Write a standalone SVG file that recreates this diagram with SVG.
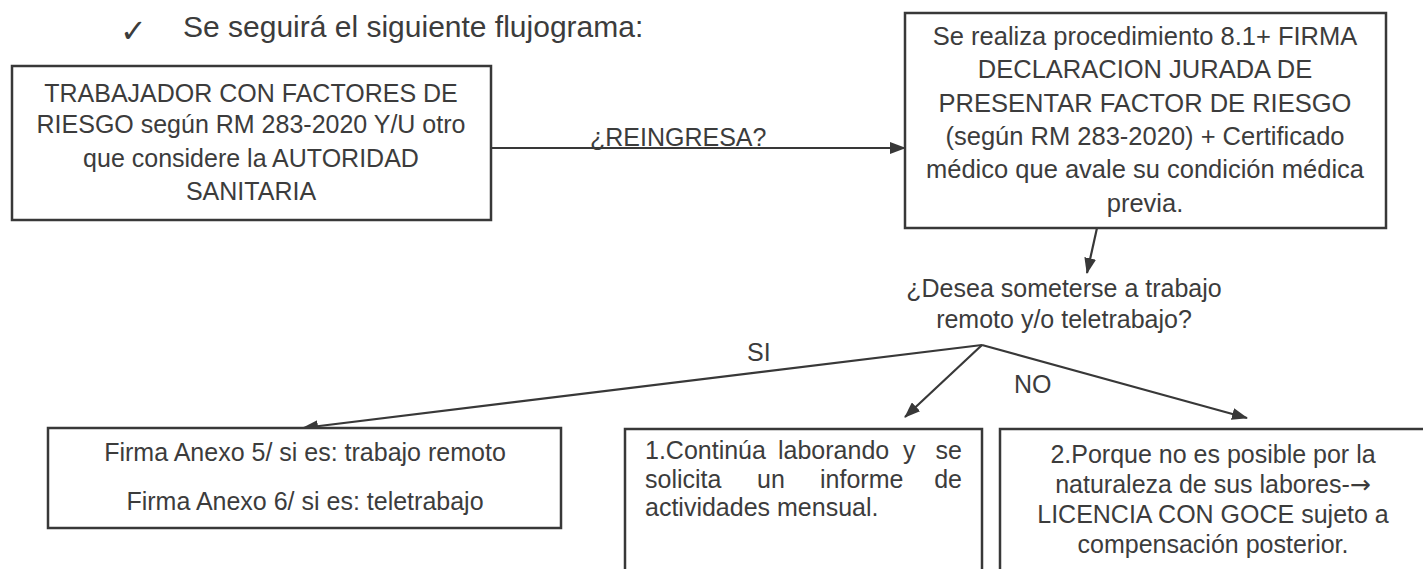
<svg xmlns="http://www.w3.org/2000/svg" width="1423" height="569" viewBox="0 0 1423 569">
<style>
 .box{fill:#fff;stroke:#383838;stroke-width:2.5}
 .t{font-family:"Liberation Sans",Arial,sans-serif;fill:#3c3c3c}
 .c{text-anchor:middle}
 .e{text-anchor:end}
 .ln{stroke:#383838;stroke-width:2.2;fill:none}
 .sym{font-family:"DejaVu Sans",sans-serif}
</style>
<defs>
 <marker id="ah" markerWidth="16" markerHeight="12" refX="15" refY="6" orient="auto" markerUnits="userSpaceOnUse">
  <path d="M0,0 L16,6 L0,12 z" fill="#383838"/>
 </marker>
</defs>
<rect width="1423" height="569" fill="#fff"/>
<g id="title">
 <text class="sym" x="120" y="42" font-size="32" fill="#3c3c3c">✓</text>
 <text class="t" x="183" y="37" font-size="30">Se seguirá el siguiente flujograma:</text>
</g>
<g id="connectors">
 <line class="ln" x1="491" y1="148" x2="905" y2="148" marker-end="url(#ah)"/>
 <text class="t" x="590" y="146" font-size="25">¿REINGRESA?</text>
 <line class="ln" x1="1097" y1="228" x2="1087" y2="273" marker-end="url(#ah)"/>
 <line class="ln" x1="982" y1="345" x2="303" y2="428" marker-end="url(#ah)"/>
 <line class="ln" x1="982" y1="345" x2="905" y2="417" marker-end="url(#ah)"/>
 <line class="ln" x1="982" y1="345" x2="1247" y2="418" marker-end="url(#ah)"/>
 <text class="t" x="747" y="361" font-size="25">SI</text>
 <text class="t" x="1014" y="393" font-size="25">NO</text>
</g>
<g id="n1">
 <rect class="box" x="12" y="66" width="479" height="154"/>
 <text class="t c" font-size="25"><tspan x="251" y="102">TRABAJADOR CON FACTORES DE</tspan><tspan x="251" y="133">RIESGO según RM 283-2020 Y/U otro</tspan><tspan x="251" y="167">que considere la AUTORIDAD</tspan><tspan x="251" y="200">SANITARIA</tspan></text>
</g>
<g id="n2">
 <rect class="box" x="905" y="13" width="481" height="215"/>
 <text class="t c" font-size="25.5"><tspan x="1145" y="45">Se realiza procedimiento 8.1+ FIRMA</tspan><tspan x="1145" y="78">DECLARACION JURADA DE</tspan><tspan x="1145" y="112">PRESENTAR FACTOR DE RIESGO</tspan><tspan x="1145" y="145">(según RM 283-2020) + Certificado</tspan><tspan x="1145" y="178">médico que avale su condición médica</tspan><tspan x="1145" y="212">previa.</tspan></text>
</g>
<g id="decision">
 <text class="t c" font-size="25"><tspan x="1064" y="297">¿Desea someterse a trabajo</tspan><tspan x="1064" y="328">remoto y/o teletrabajo?</tspan></text>
</g>
<g id="n3">
 <rect class="box" x="48" y="428" width="513" height="100"/>
 <text class="t c" font-size="25"><tspan x="305" y="461">Firma Anexo 5/ si es: trabajo remoto</tspan><tspan x="305" y="510">Firma Anexo 6/ si es: teletrabajo</tspan></text>
</g>
<g id="n4">
 <rect class="box" x="625" y="429" width="357" height="160"/>
 <text class="t" font-size="25" y="459"><tspan x="645">1.Continúa</tspan><tspan x="778">laborando</tspan><tspan x="903">y</tspan></text>
 <text class="t e" font-size="25" x="962" y="459">se</text>
 <text class="t" font-size="25" y="488"><tspan x="645">solicita</tspan><tspan x="757">un</tspan><tspan x="820">informe</tspan></text>
 <text class="t e" font-size="25" x="962" y="488">de</text>
 <text class="t" font-size="25" x="645" y="516">actividades mensual.</text>
</g>
<g id="n5">
 <rect class="box" x="1000" y="429" width="430" height="160"/>
 <text class="t c" font-size="25"><tspan x="1213" y="463">2.Porque no es posible por la</tspan><tspan x="1213" y="493">naturaleza de sus labores-<tspan class="sym">→</tspan></tspan><tspan x="1213" y="523">LICENCIA CON GOCE sujeto a</tspan><tspan x="1213" y="553">compensación posterior.</tspan></text>
</g>
</svg>
